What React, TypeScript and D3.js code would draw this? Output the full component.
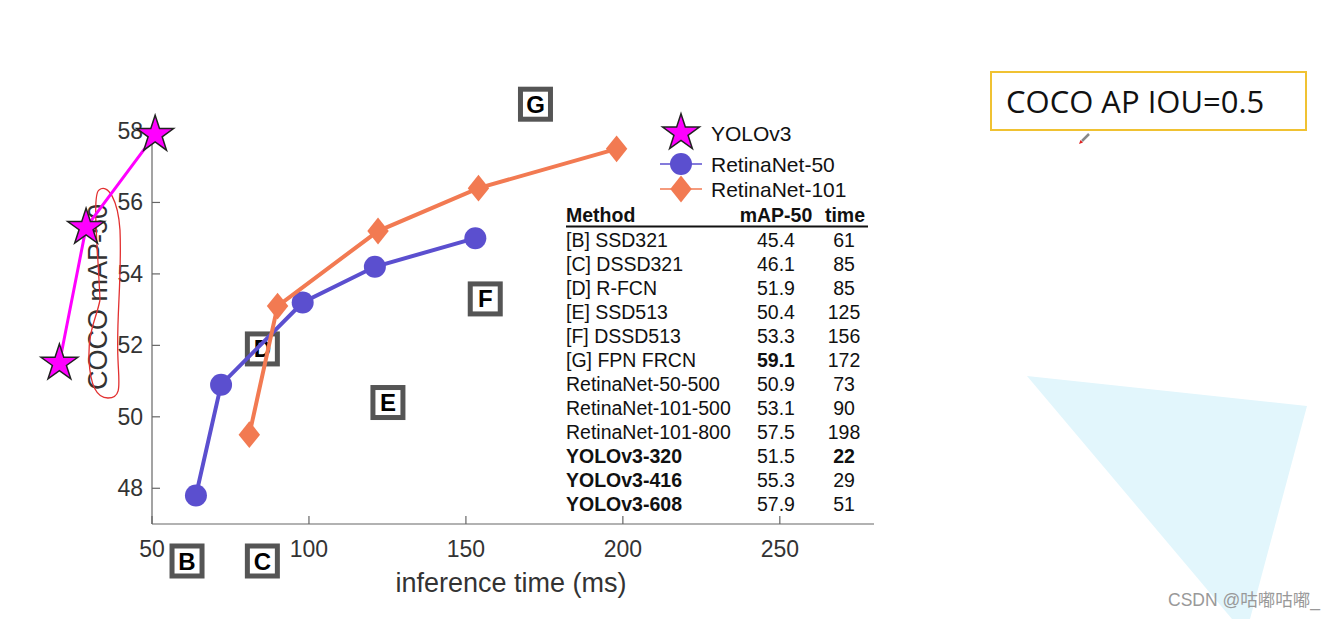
import React from "react";
import * as d3 from "d3";

const yoloTime = [20.5, 29, 51];
const yoloMap = [51.5, 55.3, 57.9];
const r50Time = [64, 72, 98, 121, 153];
const r50Map = [47.8, 50.9, 53.2, 54.2, 55.0];
const r101Time = [81, 90, 122, 154, 198];
const r101Map = [49.5, 53.1, 55.2, 56.4, 57.5];

const xTicks = [50, 100, 150, 200, 250];
const yTicks = [48, 50, 52, 54, 56, 58];

const boxLetters = ["B", "C", "D", "E", "F", "G"];
const boxTime = [61, 85, 85, 125, 156, 172];
const boxMap = [45.4, 46.1, 51.9, 50.4, 53.3, 59.1];

const tableMethods = ["[B] SSD321", "[C] DSSD321", "[D] R-FCN", "[E] SSD513", "[F] DSSD513", "[G] FPN FRCN", "RetinaNet-50-500", "RetinaNet-101-500", "RetinaNet-101-800", "YOLOv3-320", "YOLOv3-416", "YOLOv3-608"];
const tableMap = ["45.4", "46.1", "51.9", "50.4", "53.3", "59.1", "50.9", "53.1", "57.5", "51.5", "55.3", "57.9"];
const tableTime = ["61", "85", "85", "125", "156", "172", "73", "90", "198", "22", "29", "51"];
const boldMethod = [false, false, false, false, false, false, false, false, false, true, true, true];
const boldMap = [false, false, false, false, false, true, false, false, false, false, false, false];
const boldTime = [false, false, false, false, false, false, false, false, false, true, false, false];

const legendNames = ["YOLOv3", "RetinaNet-50", "RetinaNet-101"];

const MAGENTA = "#ff00ff";
const BLUE = "#5b4fcf";
const ORANGE = "#f27a52";
const FONT = "'Liberation Sans', Arial, Helvetica, sans-serif";

const x = d3.scaleLinear().domain([50, 280]).range([152, 874]);
const y = d3.scaleLinear().domain([47, 58]).range([524, 131]);

const diamondType = {
  draw(ctx: any, size: number) {
    const h = Math.sqrt(size) * 0.75;
    const w = h * 0.8;
    ctx.moveTo(0, -h);
    ctx.lineTo(w, 0);
    ctx.lineTo(0, h);
    ctx.lineTo(-w, 0);
    ctx.closePath();
  },
};

const starPath = d3.symbol().type(d3.symbolStar).size(420)()!;
const circlePath = d3.symbol().type(d3.symbolCircle).size(380)()!;
const diamondPath = d3.symbol().type(diamondType as any).size(320)()!;

const line = d3.line<[number, number]>().x((d) => x(d[0])).y((d) => y(d[1]));

export default function App() {
  const yolo = yoloTime.map((t, i) => [t, yoloMap[i]] as [number, number]);
  const r50 = r50Time.map((t, i) => [t, r50Map[i]] as [number, number]);
  const r101 = r101Time.map((t, i) => [t, r101Map[i]] as [number, number]);

  const boxPos = (i: number) => {
    const m = boxMap[i];
    const by = m < 47 ? 561 : m > 58.5 ? y(58.75) : y(m);
    return [x(boxTime[i]) + 0.5, by];
  };

  const rowY = (i: number) => 247 + i * 24;
  const legendY = [133, 164, 189];
  const TF = 19.5;

  return (
    <div style={{ position: "absolute", left: 0, top: 0 }}>
      <svg width={1344} height={619} style={{ display: "block", background: "#fff" }} fontFamily={FONT}>
        {/* light blue triangle */}
        <polygon points="1027,376 1307,406 1250,619 1232,619" fill="#e2f6fc" />
        {/* title box */}
        <rect x={991} y={72} width={315} height={58} fill="#fff" stroke="#f0c232" strokeWidth={2} />
        <text x={1006} y={113} fontSize={31} fontFamily="'Open Sans', 'Noto Sans', sans-serif" fill="#111">COCO AP IOU=0.5</text>
        <path d="M1082,141 L1089,134" stroke="#888" strokeWidth={2.5} />
        <path d="M1079,144 l4,-1.5 l-2.5,-2.5 z" fill="#e02020" />
        <text x={1168} y={606} fontSize={17.5} fill="#999" fontFamily="'Liberation Sans', 'Noto Sans CJK SC', sans-serif">CSDN @咕嘟咕嘟_</text>

        {/* axes */}
        <line x1={152} x2={874} y1={524} y2={524} stroke="#666" strokeWidth={1.2} />
        <line x1={152} x2={152} y1={131} y2={524} stroke="#666" strokeWidth={1.2} />
        {xTicks.map((t) => (
          <g key={"xt" + t}>
            <line x1={x(t)} x2={x(t)} y1={524} y2={516} stroke="#666" strokeWidth={1.2} />
            <text x={x(t)} y={557} textAnchor="middle" fontSize={23} fill="#333">{t}</text>
          </g>
        ))}
        {yTicks.map((t) => (
          <g key={"yt" + t}>
            <line x1={152} x2={160} y1={y(t)} y2={y(t)} stroke="#666" strokeWidth={1.2} />
            <text x={143} y={y(t) + 8} textAnchor="end" fontSize={23} fill="#333">{t}</text>
          </g>
        ))}
        <text x={511} y={592} textAnchor="middle" fontSize={27} fill="#333">inference time (ms)</text>
        <text transform="translate(107,297) rotate(-90)" textAnchor="middle" fontSize={27} fill="#333">COCO mAP-50</text>

        {/* red hand loop */}
        <path d="M100,300 C98,250 92,195 99,190 C108,183 118,200 120,230 C122,280 116,320 118,360 C119,385 122,398 108,398 C95,398 90,380 89,360 C88,330 96,320 100,300"
          fill="none" stroke="#e23030" strokeWidth={1.3} />

        {/* letter boxes */}
        {boxLetters.map((l, i) => {
          const [bx, by] = boxPos(i);
          return (
            <g key={l}>
              <rect x={bx - 15} y={by - 15} width={30} height={30} fill="#fff" stroke="#555" strokeWidth={5} />
              <text x={bx} y={by + 8.5} textAnchor="middle" fontSize={24} fontWeight="bold" fill="#000">{l}</text>
            </g>
          );
        })}

        {/* series */}
        <path d={line(r50)!} fill="none" stroke={BLUE} strokeWidth={4} />
        {r50.map((d, i) => (
          <path key={"c" + i} d={circlePath} transform={`translate(${x(d[0])},${y(d[1])})`} fill={BLUE} />
        ))}
        <path d={line(r101)!} fill="none" stroke={ORANGE} strokeWidth={4} />
        {r101.map((d, i) => (
          <path key={"d" + i} d={diamondPath} transform={`translate(${x(d[0])},${y(d[1])})`} fill={ORANGE} />
        ))}
        <path d={line(yolo)!} fill="none" stroke={MAGENTA} strokeWidth={3} />
        {yolo.map((d, i) => (
          <path key={"s" + i} d={starPath} transform={`translate(${x(d[0])},${y(d[1])})`} fill={MAGENTA} stroke="#222" strokeWidth={1.5} />
        ))}

        {/* legend */}
        <path d={starPath} transform={`translate(681,${legendY[0]})`} fill={MAGENTA} stroke="#222" strokeWidth={1.5} />
        <line x1={660} x2={702} y1={legendY[1]} y2={legendY[1]} stroke={BLUE} strokeWidth={1.5} />
        <path d={circlePath} transform={`translate(681,${legendY[1]})`} fill={BLUE} />
        <line x1={660} x2={702} y1={legendY[2]} y2={legendY[2]} stroke={ORANGE} strokeWidth={1.5} />
        <path d={diamondPath} transform={`translate(681,${legendY[2]})`} fill={ORANGE} />
        {legendNames.map((n, i) => (
          <text key={n} x={711} y={legendY[i] + 8} fontSize={21} fill="#111">{n}</text>
        ))}

        {/* table */}
        <text x={566} y={222} fontSize={TF} fontWeight="bold" fill="#111">Method</text>
        <text x={776} y={222} fontSize={TF} fontWeight="bold" fill="#111" textAnchor="middle">mAP-50</text>
        <text x={845} y={222} fontSize={TF} fontWeight="bold" fill="#111" textAnchor="middle">time</text>
        <line x1={566} x2={868} y1={226.5} y2={226.5} stroke="#111" strokeWidth={2} />
        {tableMethods.map((m, i) => (
          <g key={m}>
            <text x={566} y={rowY(i)} fontSize={TF} fontWeight={boldMethod[i] ? "bold" : "normal"} fill="#111">{m}</text>
            <text x={776} y={rowY(i)} fontSize={TF} fontWeight={boldMap[i] ? "bold" : "normal"} fill="#111" textAnchor="middle">{tableMap[i]}</text>
            <text x={844} y={rowY(i)} fontSize={TF} fontWeight={boldTime[i] ? "bold" : "normal"} fill="#111" textAnchor="middle">{tableTime[i]}</text>
          </g>
        ))}
      </svg>
    </div>
  );
}
